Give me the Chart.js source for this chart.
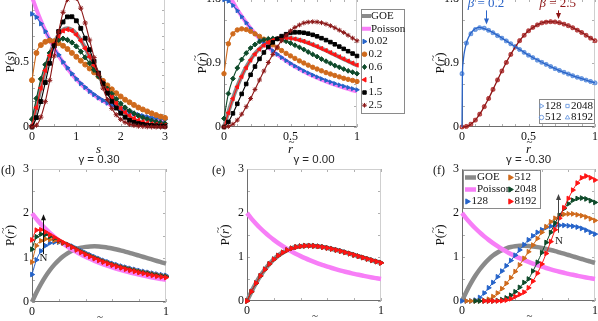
<!DOCTYPE html>
<html><head><meta charset="utf-8">
<script src="https://cdn.jsdelivr.net/npm/chart.js@4.4.1/dist/chart.umd.min.js"></script>
<style>
html,body{margin:0;padding:0;background:#fff;}
body{width:598px;height:321px;overflow:hidden;position:relative;}
canvas{position:absolute;}
</style></head><body>
<script>
// ---------------- DATA ----------------
const sGrid=[0,0.1,0.2,0.3,0.4,0.5,0.6,0.7,0.8,0.9,1,1.1,1.2,1.3,1.4,1.5,1.6,1.7,1.8,1.9,2,2.1,2.2,2.3,2.4,2.5,2.6,2.7,2.8,2.9,3];
const rGrid=[0,0.033,0.067,0.1,0.133,0.167,0.2,0.233,0.267,0.3,0.333,0.367,0.4,0.433,0.467,0.5,0.533,0.567,0.6,0.633,0.667,0.7,0.733,0.767,0.8,0.833,0.867,0.9,0.933,0.967,1];
const betaLabels=['0.02','0.2','0.6','1','1.5','2.5'];
const nLabels=['128','512','2048','8192'];
const gammaTitles=['\u03b3 = 0.30','\u03b3 = 0.00','\u03b3 = -0.30'];

// panel (a): P(s)
const aGOE=[0,0.156,0.304,0.439,0.554,0.645,0.710,0.749,0.760,0.748,0.716,0.668,0.608,0.542,0.472,0.402,0.336,0.276,0.222,0.175,0.136,0.103,0.077,0.057,0.041,0.029,0.020,0.014,0.009,0.006,0.004];
const aPoisson=[1,0.905,0.819,0.741,0.670,0.607,0.549,0.497,0.449,0.407,0.368,0.333,0.301,0.273,0.247,0.223,0.202,0.183,0.165,0.150,0.135,0.122,0.111,0.100,0.091,0.082,0.074,0.067,0.061,0.055,0.050];
const aB002=[0.87,0.845,0.795,0.735,0.675,0.615,0.555,0.50,0.455,0.41,0.37,0.335,0.305,0.275,0.25,0.225,0.205,0.185,0.168,0.152,0.138,0.125,0.113,0.103,0.094,0.086,0.078,0.072,0.066,0.061,0.057];
const aB02=[0.36,0.57,0.63,0.655,0.665,0.66,0.645,0.625,0.60,0.57,0.54,0.51,0.48,0.45,0.42,0.39,0.355,0.32,0.29,0.26,0.235,0.21,0.19,0.17,0.15,0.135,0.12,0.105,0.092,0.08,0.07];
const aB06=[0.06,0.22,0.37,0.48,0.57,0.63,0.67,0.68,0.67,0.65,0.62,0.58,0.535,0.49,0.44,0.39,0.34,0.295,0.255,0.215,0.18,0.15,0.125,0.105,0.087,0.072,0.06,0.049,0.04,0.033,0.027];
const aB1=[0.01,0.15,0.30,0.435,0.55,0.64,0.70,0.74,0.75,0.74,0.71,0.665,0.605,0.54,0.475,0.405,0.34,0.28,0.228,0.182,0.143,0.112,0.087,0.067,0.052,0.04,0.031,0.024,0.019,0.015,0.012];
const aB15=[0,0.072,0.196,0.342,0.49,0.625,0.734,0.808,0.847,0.848,0.817,0.759,0.683,0.595,0.504,0.415,0.333,0.26,0.198,0.146,0.106,0.075,0.051,0.036,0.026,0.019,0.014,0.011,0.009,0.007,0.006];
const aB25=[0,0.014,0.076,0.195,0.359,0.547,0.731,0.882,0.98,1.016,0.99,0.914,0.80,0.669,0.534,0.408,0.299,0.211,0.143,0.094,0.059,0.036,0.021,0.012,0.007,0.004,0.002,0.001,0.001,0,0];

// r-tilde reference curves (shared by b, d, e, f)
const rGOE=[0,0.212,0.406,0.572,0.716,0.843,0.946,1.032,1.102,1.156,1.196,1.226,1.243,1.253,1.255,1.250,1.239,1.224,1.205,1.183,1.158,1.132,1.104,1.075,1.045,1.015,0.985,0.955,0.925,0.895,0.866];
const rPoisson=[2,1.873,1.757,1.653,1.558,1.469,1.389,1.316,1.246,1.183,1.126,1.070,1.020,0.974,0.929,0.889,0.851,0.815,0.781,0.750,0.720,0.692,0.666,0.641,0.617,0.595,0.574,0.554,0.535,0.517,0.5];

// panel (b): P(r~) for beta
const bB002=[1.79,1.77,1.71,1.635,1.55,1.465,1.385,1.31,1.243,1.182,1.126,1.072,1.023,0.978,0.934,0.895,0.858,0.823,0.79,0.76,0.731,0.704,0.679,0.655,0.633,0.612,0.592,0.574,0.556,0.539,0.523];
const bB02=[0.75,1.17,1.31,1.365,1.38,1.37,1.345,1.31,1.275,1.235,1.195,1.155,1.115,1.075,1.035,1.0,0.965,0.93,0.90,0.87,0.84,0.815,0.79,0.765,0.745,0.725,0.705,0.685,0.67,0.655,0.64];
const bB06=[0.12,0.47,0.68,0.83,0.95,1.04,1.11,1.16,1.20,1.225,1.24,1.245,1.24,1.225,1.205,1.18,1.15,1.12,1.09,1.055,1.02,0.99,0.955,0.925,0.895,0.865,0.84,0.815,0.79,0.77,0.75];
const bB1=[0,0.2,0.4,0.565,0.71,0.835,0.94,1.025,1.095,1.15,1.19,1.22,1.24,1.25,1.252,1.248,1.238,1.222,1.204,1.182,1.157,1.131,1.104,1.075,1.046,1.017,0.987,0.957,0.928,0.899,0.87];
const bB15=[0,0.071,0.192,0.326,0.465,0.605,0.734,0.85,0.958,1.048,1.125,1.19,1.24,1.278,1.305,1.323,1.331,1.331,1.325,1.313,1.296,1.275,1.249,1.222,1.194,1.163,1.131,1.099,1.066,1.033,0.999];
const bB25=[0,0.008,0.04,0.097,0.18,0.285,0.40,0.528,0.661,0.787,0.907,1.02,1.124,1.213,1.29,1.352,1.40,1.435,1.463,1.475,1.48,1.477,1.466,1.447,1.424,1.395,1.362,1.329,1.29,1.25,1.213];

// panel (c): theory lines and finite-size data
const cLineX=[0,0.003,0.008,0.015,0.025,0.04,0.06,0.08,0.1,0.125,0.15,0.2,0.25,0.3,0.35,0.4,0.45,0.5,0.55,0.6,0.65,0.7,0.75,0.8,0.85,0.9,0.95,1];
const cLineB02=[0,0.72,0.9,1.02,1.12,1.22,1.30,1.35,1.38,1.40,1.395,1.36,1.31,1.25,1.19,1.13,1.07,1.01,0.96,0.91,0.865,0.82,0.78,0.745,0.71,0.68,0.65,0.62];
const cLineB25=[0,0,0,0.0005,0.003,0.012,0.03,0.06,0.097,0.16,0.23,0.40,0.594,0.787,0.967,1.124,1.253,1.352,1.418,1.463,1.48,1.477,1.457,1.424,1.38,1.329,1.27,1.213];
const cMarkB02=[0.75,1.18,1.31,1.37,1.395,1.39,1.36,1.325,1.285,1.25,1.21,1.17,1.13,1.09,1.05,1.01,0.975,0.94,0.91,0.88,0.85,0.82,0.795,0.77,0.745,0.72,0.70,0.68,0.66,0.64,0.62];
const cMarkB25=[0,0.008,0.04,0.097,0.18,0.285,0.40,0.528,0.661,0.787,0.907,1.02,1.124,1.213,1.29,1.352,1.40,1.435,1.463,1.475,1.48,1.477,1.466,1.447,1.424,1.395,1.362,1.329,1.29,1.25,1.213];

// panel (d): gamma = 0.30
const d128=[0.62,0.95,1.15,1.27,1.33,1.35,1.35,1.33,1.30,1.26,1.21,1.16,1.11,1.065,1.02,0.98,0.94,0.905,0.87,0.84,0.81,0.785,0.76,0.735,0.71,0.69,0.67,0.65,0.63,0.615,0.60];
const d512=[0.90,1.27,1.38,1.42,1.41,1.39,1.36,1.33,1.29,1.245,1.195,1.14,1.09,1.045,1.0,0.96,0.92,0.885,0.85,0.82,0.79,0.765,0.74,0.715,0.69,0.67,0.65,0.63,0.61,0.595,0.58];
const d2048=[1.19,1.47,1.53,1.52,1.48,1.44,1.39,1.34,1.29,1.24,1.185,1.13,1.08,1.035,0.99,0.95,0.91,0.875,0.84,0.81,0.78,0.755,0.73,0.705,0.68,0.66,0.64,0.62,0.60,0.585,0.57];
const d8192=[1.40,1.62,1.63,1.58,1.52,1.46,1.40,1.345,1.29,1.235,1.175,1.12,1.07,1.025,0.98,0.94,0.90,0.865,0.83,0.80,0.77,0.74,0.715,0.69,0.665,0.645,0.62,0.60,0.58,0.565,0.55];

// panel (e): gamma = 0.00
const e128=[0,0.22,0.41,0.575,0.72,0.845,0.95,1.035,1.10,1.155,1.195,1.225,1.245,1.255,1.26,1.255,1.245,1.23,1.21,1.19,1.165,1.14,1.11,1.08,1.05,1.02,0.99,0.96,0.93,0.90,0.87];
const e512=[0,0.215,0.405,0.57,0.715,0.84,0.945,1.03,1.10,1.155,1.195,1.225,1.243,1.254,1.256,1.252,1.241,1.226,1.207,1.186,1.161,1.135,1.107,1.078,1.048,1.018,0.988,0.958,0.928,0.898,0.868];
const e2048=[0,0.21,0.40,0.57,0.715,0.842,0.946,1.032,1.102,1.156,1.197,1.227,1.245,1.255,1.257,1.253,1.242,1.227,1.208,1.186,1.161,1.135,1.107,1.078,1.048,1.018,0.988,0.958,0.928,0.898,0.868];
const e8192=[0,0.212,0.406,0.572,0.716,0.843,0.946,1.032,1.102,1.156,1.196,1.226,1.243,1.253,1.255,1.250,1.239,1.224,1.205,1.183,1.158,1.132,1.104,1.075,1.045,1.015,0.985,0.955,0.925,0.895,0.866];

// panel (f): gamma = -0.30
const f128=[0,0,0,0.02,0.08,0.18,0.3,0.42,0.55,0.68,0.80,0.92,1.04,1.16,1.28,1.39,1.48,1.56,1.62,1.67,1.70,1.71,1.72,1.72,1.71,1.70,1.68,1.65,1.61,1.56,1.52];
const f512=[null,0,0,0,0,0.01,0.04,0.1,0.18,0.28,0.40,0.53,0.67,0.82,0.97,1.12,1.27,1.42,1.56,1.69,1.80,1.88,1.94,1.97,1.98,1.98,1.96,1.94,1.91,1.87,1.83];
const f2048=[null,null,null,0,0,0,0,0,0.01,0.03,0.07,0.13,0.21,0.31,0.42,0.5,0.68,0.88,1.1,1.33,1.56,1.77,1.95,2.1,2.21,2.29,2.33,2.34,2.32,2.28,2.24];
const f8192=[null,null,null,null,null,0,0,0,0,0.005,0.02,0.05,0.1,0.15,0.2,0.3,0.45,0.63,0.84,1.08,1.35,1.62,1.88,2.12,2.33,2.52,2.68,2.8,2.84,2.8,2.75];

// ---------------- STYLE ----------------
const SERIF='"Liberation Serif","DejaVu Serif",serif';
const SANS='"Liberation Sans","DejaVu Sans",Arial,sans-serif';
const C_GOE='#8a8a8a', C_POI='#f77ef7';
const C_BLUE='#2563c9', C_ORANGE='#cf6a1c', C_GREEN='#0e4a2a', C_RED='#ff1414', C_BLACK='#000000', C_DRED='#8b1717';
const C_LB='#6a98e0', C_LR='#b84444', C_CB='#2a64c8', C_CR='#8e1515';

function pts(xs,ys){return xs.map((x,i)=>({x:x,y:ys[i]}));}
let ordCounter=1000;
function thick(xs,ys,color,w){return {data:pts(xs,ys),borderColor:color,backgroundColor:color,borderWidth:w||4,pointRadius:0,cubicInterpolationMode:'monotone',clip:false,order:ordCounter--};}
function ser(xs,ys,color,style,o){o=o||{};return {data:pts(xs,ys),borderColor:color,backgroundColor:color,borderWidth:o.lw||1.1,
  showLine:o.noLine?false:true,pointStyle:style,pointRadius:o.r||2.4,pointRotation:o.rot||0,
  pointBackgroundColor:o.hollow?'rgba(0,0,0,0)':color,pointBorderColor:color,pointBorderWidth:o.hollow?0.8:1,
  cubicInterpolationMode:'monotone',clip:false,order:ordCounter--};}

// parts: [text, italic, tilde]
function txt(ctx,parts,x,y,size,family,color,align,rot){
  ctx.save();ctx.translate(x,y);if(rot)ctx.rotate(rot);
  ctx.fillStyle=color;ctx.textBaseline='middle';ctx.textAlign='left';
  const fonts=parts.map(p=>(p[1]?'italic ':'')+size+'px '+family);
  let w=0;const ws=parts.map((p,i)=>{ctx.font=fonts[i];const m=ctx.measureText(p[0]).width;w+=m;return m;});
  let cx=align==='left'?0:align==='right'?-w:-w/2;
  parts.forEach((p,i)=>{ctx.font=fonts[i];ctx.fillText(p[0],cx,0);
    if(p[2]){ctx.font=(size*0.85)+'px '+family;ctx.textAlign='center';ctx.fillText('~',cx+ws[i]/2+1,-size*0.62);ctx.textAlign='left';}
    cx+=ws[i];});
  ctx.restore();
}
function marker(ctx,style,x,y,r,color,hollow,rot){
  ctx.save();ctx.translate(x,y);if(rot)ctx.rotate(rot*Math.PI/180);
  ctx.beginPath();ctx.lineWidth=hollow?0.9:1;ctx.strokeStyle=color;ctx.fillStyle=color;
  if(style==='circle'){ctx.arc(0,0,r,0,Math.PI*2);}
  else if(style==='triangle'){ctx.moveTo(0,-r*1.1);ctx.lineTo(r,r*0.65);ctx.lineTo(-r,r*0.65);ctx.closePath();}
  else if(style==='rect'){const s=r*0.75;ctx.rect(-s,-s,2*s,2*s);}
  else if(style==='rectRot'){ctx.moveTo(0,-r*1.1);ctx.lineTo(r*0.9,0);ctx.lineTo(0,r*1.1);ctx.lineTo(-r*0.9,0);ctx.closePath();}
  else if(style==='star'){for(let i=0;i<4;i++){const a=i*Math.PI/4;ctx.moveTo(-r*Math.cos(a),-r*Math.sin(a));ctx.lineTo(r*Math.cos(a),r*Math.sin(a));}ctx.stroke();ctx.restore();return;}
  if(hollow)ctx.stroke();else{ctx.fill();ctx.stroke();}
  ctx.restore();
}
function arrow(ctx,x,y1,y2,color){
  ctx.save();ctx.strokeStyle=color;ctx.fillStyle=color;ctx.lineWidth=1;
  const dir=y2>y1?1:-1;
  ctx.beginPath();ctx.moveTo(x,y1);ctx.lineTo(x,y2-dir*4);ctx.stroke();
  ctx.beginPath();ctx.moveTo(x,y2);ctx.lineTo(x-2.5,y2-dir*6);ctx.lineTo(x+2.5,y2-dir*6);ctx.closePath();ctx.fill();
  ctx.restore();
}
function legendBox(ctx,x1,y1,x2,y2){ctx.save();ctx.fillStyle='#fff';ctx.strokeStyle='#8a8a8a';ctx.lineWidth=1;
  ctx.fillRect(x1,y1,x2-x1,y2-y1);ctx.strokeRect(Math.round(x1)+0.5,Math.round(y1)+0.5,Math.round(x2-x1),Math.round(y2-y1));ctx.restore();}
function legLine(ctx,x1,x2,y,color,w){ctx.save();ctx.strokeStyle=color;ctx.lineWidth=w;ctx.beginPath();ctx.moveTo(x1,y);ctx.lineTo(x2,y);ctx.stroke();ctx.restore();}

function drawFrame(ch,o){
  const ctx=ch.ctx,a=ch.chartArea,xs=ch.scales.x,ys=ch.scales.y;
  ctx.save();ctx.lineWidth=1;ctx.strokeStyle='#b0b0b0';
  ctx.beginPath();
  for(let k=0;;k++){const v=o.xmin+k*o.xMinor;if(v>o.xmax+1e-9)break;const p=Math.round(xs.getPixelForValue(v))+0.5;
    ctx.moveTo(p,a.bottom);ctx.lineTo(p,a.bottom-3);ctx.moveTo(p,a.top);ctx.lineTo(p,a.top+3);}
  for(let k=0;;k++){const v=o.ymin+k*o.yMinor;if(v>o.ymax+1e-9)break;const p=Math.round(ys.getPixelForValue(v))+0.5;
    ctx.moveTo(a.left,p);ctx.lineTo(a.left+3,p);ctx.moveTo(a.right,p);ctx.lineTo(a.right-3,p);}
  ctx.stroke();
  const L=Math.round(a.left)+0.5,R=Math.round(a.right)-0.5,T=Math.round(a.top)+0.5,B=Math.round(a.bottom)-0.5;
  ctx.strokeStyle='#cfcfcf';ctx.beginPath();ctx.moveTo(L,T);ctx.lineTo(R,T);ctx.lineTo(R,B);ctx.stroke();
  ctx.strokeStyle='#6e6e6e';ctx.beginPath();ctx.moveTo(L,T);ctx.lineTo(L,B);ctx.lineTo(R,B);ctx.stroke();
  ctx.restore();
}

const RT=['r',1,1];
function makePanel(o){
  const padTop=o.padTop||12,padRight=o.padRight||6,YW=40,XH=30;
  const W=(o.R-o.L)+YW+padRight,H=(o.B-o.T)+padTop+XH;
  const cl=o.L-YW,ct=o.T-padTop;
  const cv=document.createElement('canvas');
  cv.width=W;cv.height=H;cv.style.left=cl+'px';cv.style.top=ct+'px';cv.style.width=W+'px';cv.style.height=H+'px';
  document.body.appendChild(cv);
  const tickFont={family:SERIF,size:12};
  const fmt=v=>String(+(+v).toFixed(3));
  new Chart(cv.getContext('2d'),{
    type:'line',data:{datasets:o.datasets},
    options:{responsive:false,maintainAspectRatio:false,animation:false,events:[],devicePixelRatio:1,
      layout:{padding:{top:padTop,right:padRight,left:0,bottom:0}},
      plugins:{legend:{display:false},tooltip:{enabled:false},title:{display:false}},
      scales:{
        x:{type:'linear',position:'bottom',min:o.xmin,max:o.xmax,grid:{display:false,drawTicks:false},border:{display:false},
          ticks:{stepSize:o.xStep,autoSkip:false,maxRotation:0,padding:3,color:'#111',font:tickFont,callback:fmt},
          afterFit(s){s.height=XH;}},
        y:{type:'linear',position:'left',min:o.ymin,max:o.ymax,grid:{display:false,drawTicks:false},border:{display:false},
          ticks:{stepSize:o.yStep,autoSkip:false,padding:3,color:'#111',font:tickFont,callback:fmt},
          afterFit(s){s.width=YW;}}
      }},
    plugins:[{id:'deco',
      beforeDatasetsDraw(ch){drawFrame(ch,o);},
      afterDatasetsDraw(ch){
        const ctx=ch.ctx;ctx.save();
        const X=v=>ch.scales.x.getPixelForValue(v)+cl, Y=v=>ch.scales.y.getPixelForValue(v)+ct;
        ctx.translate(-cl,-ct);
        txt(ctx,o.yTitle,o.L-21,(o.T+o.B)/2,13,SERIF,'#111','center',-Math.PI/2);
        txt(ctx,o.xTitle,(o.L+o.R)/2,o.B+23,13,SERIF,'#111','center');
        if(o.title)txt(ctx,[[o.title,0]],(o.L+o.R)/2,160,11.5,SANS,'#262626','center');
        if(o.tag)txt(ctx,[[o.tag,0]],o.tagX,171,12,SERIF,'#111','left');
        if(o.draw)o.draw(ctx,X,Y);
        ctx.restore();
      }}]
  });
}

// ---------------- PANELS ----------------
// (a)
ordCounter=1000;
makePanel({L:32,T:-3,R:165,B:127,xmin:0,xmax:3,ymin:0,ymax:1,xStep:1,yStep:0.5,xMinor:0.5,yMinor:0.1,
  yTitle:[['P(',0],['s',1],[')',0]],xTitle:[['s',1]],
  datasets:[thick(sGrid,aGOE,C_GOE,4),thick(sGrid,aPoisson,C_POI,4),
    ser(sGrid,aB002,C_BLUE,'triangle',{rot:90,r:2.6}),ser(sGrid,aB02,C_ORANGE,'circle',{r:2.5}),
    ser(sGrid,aB06,C_GREEN,'rectRot',{r:2.6}),ser(sGrid,aB1,C_RED,'triangle',{rot:-90,r:2.6}),
    ser(sGrid,aB15,C_BLACK,'rect',{r:2.7}),ser(sGrid,aB25,C_DRED,'star',{r:2.6})]});

// (b)
ordCounter=1000;
makePanel({L:224,T:-1,R:357,B:127,xmin:0,xmax:1,ymin:0,ymax:1.8,xStep:0.5,yStep:0.9,xMinor:0.1,yMinor:0.3,padRight:52,
  yTitle:[['P(',0],RT,[')',0]],xTitle:[RT],
  datasets:[thick(rGrid,rGOE,C_GOE,4),thick(rGrid,rPoisson,C_POI,4),
    ser(rGrid,bB002,C_BLUE,'triangle',{rot:90,r:2.3}),ser(rGrid,bB02,C_ORANGE,'circle',{r:2.2}),
    ser(rGrid,bB06,C_GREEN,'rectRot',{r:2.4}),ser(rGrid,bB1,C_RED,'triangle',{rot:-90,r:2.4}),
    ser(rGrid,bB15,C_BLACK,'rect',{r:2.5}),ser(rGrid,bB25,C_DRED,'star',{r:2.4})],
  draw(ctx){
    legendBox(ctx,361,9,404,113);
    const items=[['GOE','line',C_GOE],['Poisson','line',C_POI],[betaLabels[0],'triangle',C_BLUE,90],[betaLabels[1],'circle',C_ORANGE],
      [betaLabels[2],'rectRot',C_GREEN],[betaLabels[3],'triangle',C_RED,-90],[betaLabels[4],'rect',C_BLACK],[betaLabels[5],'star',C_DRED]];
    items.forEach((it,i)=>{const y=16+i*12.75;
      if(it[1]==='line'){legLine(ctx,362,371,y,it[2],4);txt(ctx,[[it[0],0]],371,y,11,SERIF,'#111','left');}
      else{marker(ctx,it[1],364.5,y,2.3,it[2],false,it[3]||0);txt(ctx,[[it[0],0]],368.5,y,11,SERIF,'#111','left');}
    });
  }});

// (c)
ordCounter=1000;
const cMarks=[];
[[cMarkB25,C_LR],[cMarkB02,C_LB]].forEach(([arr,col])=>{
  cMarks.push(ser(rGrid,arr,col,'triangle',{rot:90,r:2.1,hollow:true,noLine:true}));
  cMarks.push(ser(rGrid,arr,col,'circle',{r:2,hollow:true,noLine:true}));
  cMarks.push(ser(rGrid,arr,col,'rect',{r:2.2,hollow:true,noLine:true}));
  cMarks.push(ser(rGrid,arr,col,'triangle',{r:2.1,hollow:true,noLine:true}));
});
makePanel({L:462,T:-1,R:595,B:127,xmin:0,xmax:1,ymin:0,ymax:1.8,xStep:0.5,yStep:0.9,xMinor:0.1,yMinor:0.3,
  yTitle:[['P(',0],RT,[')',0]],xTitle:[RT],
  datasets:cMarks.concat([
    {data:pts(cLineX,cLineB25),borderColor:C_CR,borderWidth:1.3,pointRadius:0,cubicInterpolationMode:'monotone',clip:false,order:1},
    {data:pts(cLineX,cLineB02),borderColor:C_CB,borderWidth:1.3,pointRadius:0,cubicInterpolationMode:'monotone',clip:false,order:0}]),
  draw(ctx,X,Y){
    txt(ctx,[['\u03b2',1],[' = 0.2',0]],X(0.18),Y(1.74),13,SERIF,C_CB,'center');
    arrow(ctx,Math.round(X(0.18))+0.5,Y(1.64),Y(1.44),C_CB);
    txt(ctx,[['\u03b2',1],[' = 2.5',0]],X(0.72),Y(1.74),13,SERIF,C_CR,'center');
    arrow(ctx,Math.round(X(0.72))+0.5,Y(1.64),Y(1.52),C_CR);
    legendBox(ctx,539,99,594,123);
    const cells=[[nLabels[0],'triangle',90,541.5,106],[nLabels[2],'rect',0,567.5,106],[nLabels[1],'circle',0,541.5,117.5],[nLabels[3],'triangle',0,567.5,117.5]];
    cells.forEach(c=>{marker(ctx,c[1],c[3],c[4],2.2,C_LB,true,c[2]);txt(ctx,[[c[0],0]],c[3]+3.5,c[4],11,SERIF,'#111','left');});
  }});

// bottom row
const nColors=[C_BLUE,C_ORANGE,C_GREEN,C_RED];
function nSets(arrs){return arrs.map((a,i)=>ser(rGrid,a,nColors[i],'triangle',{rot:90,r:2.7,lw:1}));}

ordCounter=1000;
makePanel({L:32,T:169,R:166,B:302,xmin:0,xmax:1,ymin:0,ymax:3,xStep:1,yStep:1,xMinor:0.2,yMinor:0.5,padTop:20,
  yTitle:[['P(',0],RT,[')',0]],xTitle:[RT],title:gammaTitles[0],tag:'(d)',tagX:1,
  datasets:[thick(rGrid,rGOE,C_GOE,4.5),thick(rGrid,rPoisson,C_POI,4.5)].concat(nSets([d128,d512,d2048,d8192])),
  draw(ctx,X,Y){arrow(ctx,Math.round(X(0.08))+0.5,Y(1.08),Y(1.98),'#111');txt(ctx,[['N',0]],X(0.085),Y(0.98),11,SERIF,'#111','center');}});

ordCounter=1000;
makePanel({L:247,T:169,R:381,B:301,xmin:0,xmax:1,ymin:0,ymax:3,xStep:1,yStep:1,xMinor:0.2,yMinor:0.5,padTop:20,
  yTitle:[['P(',0],RT,[')',0]],xTitle:[RT],title:gammaTitles[1],tag:'(e)',tagX:212,
  datasets:[thick(rGrid,rGOE,C_GOE,4.5),thick(rGrid,rPoisson,C_POI,4.5)].concat(nSets([e128,e512,e2048,e8192]))});

ordCounter=1000;
makePanel({L:462,T:169,R:595,B:301,xmin:0,xmax:1,ymin:0,ymax:3,xStep:1,yStep:1,xMinor:0.2,yMinor:0.5,padTop:20,
  yTitle:[['P(',0],RT,[')',0]],xTitle:[RT],title:gammaTitles[2],tag:'(f)',tagX:433,
  datasets:[thick(rGrid,rGOE,C_GOE,4.5),thick(rGrid,rPoisson,C_POI,4.5)].concat(nSets([f128,f512,f2048,f8192])),
  draw(ctx,X,Y){
    arrow(ctx,Math.round(X(0.72))+0.5,Y(1.55),Y(2.43),'#444');txt(ctx,[['N',0]],X(0.73),Y(1.37),11,SERIF,'#222','center');
    legendBox(ctx,463,170,540,208);
    legLine(ctx,465,476,177.5,C_GOE,4.5);txt(ctx,[['GOE',0]],477,177.5,11,SERIF,'#111','left');
    legLine(ctx,465,476,189.5,C_POI,4.5);txt(ctx,[['Poisson',0]],477,189.5,11,SERIF,'#111','left');
    marker(ctx,'triangle',467.5,201.5,2.6,nColors[0],false,90);txt(ctx,[[nLabels[0],0]],471.5,201.5,11,SERIF,'#111','left');
    [1,2,3].forEach((k,i)=>{const y=177.5+i*12;marker(ctx,'triangle',510.5,y,2.6,nColors[k],false,90);txt(ctx,[[nLabels[k],0]],514.5,y,11,SERIF,'#111','left');});
  }});
</script></body></html>
